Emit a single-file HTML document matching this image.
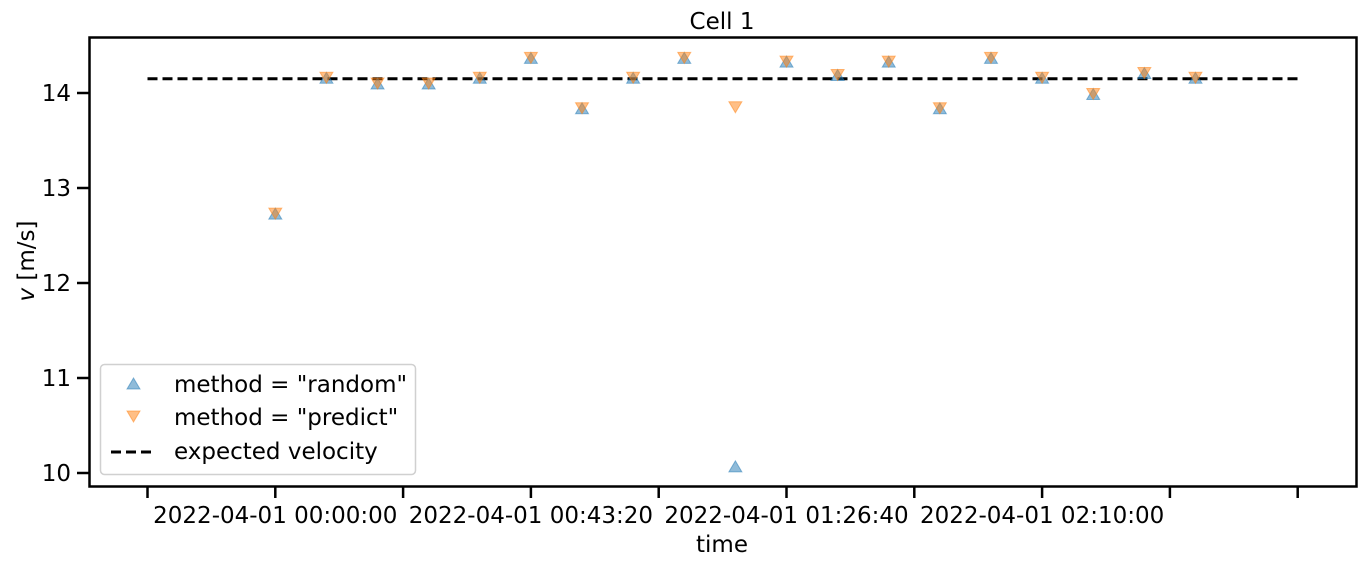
<!DOCTYPE html>
<html><head><meta charset="utf-8"><style>
html,body{margin:0;padding:0;background:#fff;}
svg{display:block;font-family:"DejaVu Sans","Liberation Sans",sans-serif;}
</style></head><body>
<svg id="chart" width="1366" height="566" viewBox="0 0 1366 566">
<text x="722" y="29" font-size="23" text-anchor="middle">Cell 1</text>
<g id="plot"></g>
<rect x="89.5" y="37.5" width="1267" height="449" fill="none" stroke="#000" stroke-width="2.5"/>
<text x="722" y="552" font-size="23" text-anchor="middle">time</text>
<text transform="translate(34,261) rotate(-90)" font-size="23" text-anchor="middle"><tspan font-style="italic">v</tspan> [m/s]</text>
<g>
<rect x="100.5" y="364.5" width="315" height="110" rx="4" fill="#fff" fill-opacity="0.8" stroke="#d0d0d0" stroke-width="1.5"/>
<path d="M127,389 L133.5,378 L140,389 Z" fill="#1f77b4" fill-opacity="0.5" stroke="#1f77b4" stroke-opacity="0.5"/>
<text x="174" y="392" font-size="23">method = "random"</text>
<path d="M127,411 L133.5,422 L140,411 Z" fill="#ff7f0e" fill-opacity="0.5" stroke="#ff7f0e" stroke-opacity="0.5"/>
<text x="174" y="425" font-size="23">method = "predict"</text>
<line x1="111" y1="452" x2="155" y2="452" stroke="#000" stroke-width="3" stroke-dasharray="10,5"/>
<text x="174" y="459" font-size="23">expected velocity</text>
</g>
</svg>
<script>
const times = [0,520,1040,1560,2080,2600,3120,3640,4160,4680,5200,5720,6240,6760,7280,7800,8320,8840,9360];
const randomV = [12.73,14.16,14.10,14.10,14.16,14.37,13.84,14.16,14.37,10.07,14.33,14.19,14.33,13.84,14.37,14.16,13.99,14.21,14.16];
const predictV = [12.73,14.16,14.10,14.10,14.16,14.37,13.84,14.16,14.37,13.85,14.33,14.19,14.33,13.84,14.37,14.16,13.99,14.21,14.16];
const expectedV = 14.15;
const expectedRange = [-1300,10400];
const xTicks = [-1300,0,1300,2600,3900,5200,6500,7800,9100,10400];
const xTickLabels = ["","2022-04-01 00:00:00","","2022-04-01 00:43:20","","2022-04-01 01:26:40","","2022-04-01 02:10:00","",""];
const yTicks = [10,11,12,13,14];

const NS="http://www.w3.org/2000/svg";
const plot=document.getElementById('plot');
function X(t){return 275.3 + t*(127.8/1300);}
function Y(v){return 473 - (v-10)*95;}
function mk(tag,attrs){const e=document.createElementNS(NS,tag);for(const k in attrs)e.setAttribute(k,attrs[k]);plot.appendChild(e);return e;}

xTicks.forEach((t,i)=>{
  const l=mk('line',{x1:X(t),x2:X(t),y1:486,y2:498,stroke:'#000','stroke-width':2.5});
  
  
  if(xTickLabels[i]){
    const tx=mk('text',{x:X(t),y:523,'font-size':23,'text-anchor':'middle'});
    tx.textContent=xTickLabels[i];
    
    
  }
});
yTicks.forEach(v=>{
  const l=mk('line',{x1:77,x2:89,y1:Y(v),y2:Y(v),stroke:'#000','stroke-width':2.5});
  
  
  const tx=mk('text',{x:71,y:Y(v)+8,'font-size':23,'text-anchor':'end'});
  tx.textContent=String(v);
  
  
});
const ln=mk('line',{x1:X(expectedRange[0]),x2:X(expectedRange[1]),y1:Y(expectedV),y2:Y(expectedV),stroke:'#000','stroke-width':3,'stroke-dasharray':'10,5'});


times.forEach((t,i)=>{
  const x=X(t),y=Y(randomV[i]);
  const p=mk('path',{d:`M${x-6.5},${y+5.5} L${x},${y-5.5} L${x+6.5},${y+5.5} Z`,fill:'#1f77b4','fill-opacity':0.5,stroke:'#1f77b4','stroke-opacity':0.5});
  
  
});
times.forEach((t,i)=>{
  const x=X(t),y=Y(predictV[i]);
  const p=mk('path',{d:`M${x-6.5},${y-5.5} L${x},${y+5.5} L${x+6.5},${y-5.5} Z`,fill:'#ff7f0e','fill-opacity':0.5,stroke:'#ff7f0e','stroke-opacity':0.5});
  
  
});
</script>
</body></html>
